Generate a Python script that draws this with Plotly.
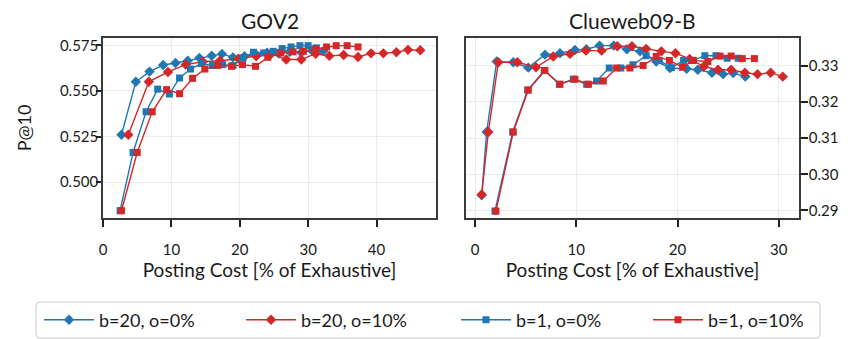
import plotly.graph_objects as go

# ---------------- data ----------------
# GOV2
gov2_b20_o0_x = [2.7, 4.8, 6.8, 8.8, 10.6, 12.4, 14.1, 15.9, 17.4, 19.0, 20.7, 22.4, 24.0, 25.7, 27.3, 29.0, 30.6, 32.2]
gov2_b20_o0_y = [0.526, 0.555, 0.5606, 0.5642, 0.5653, 0.5666, 0.5681, 0.5693, 0.5703, 0.5684, 0.5690, 0.5700, 0.5710, 0.5705, 0.5715, 0.5710, 0.5720, 0.5718]

gov2_b20_o10_x = [3.7, 6.7, 9.5, 12.1, 14.6, 17.1, 19.8, 22.4, 24.6, 26.8, 29.0, 31.1, 33.1, 35.2, 37.3, 39.2, 41.0, 42.9, 44.6, 46.4]
gov2_b20_o10_y = [0.526, 0.555, 0.5604, 0.5644, 0.5660, 0.5665, 0.5676, 0.5690, 0.5704, 0.5672, 0.5672, 0.5704, 0.5692, 0.5697, 0.5686, 0.5706, 0.5706, 0.5712, 0.5725, 0.5723]

gov2_b1_o0_x = [2.5, 4.4, 6.3, 8.0, 9.7, 11.2, 12.8, 14.4, 16.0, 17.5, 19.0, 20.5, 22.0, 23.5, 24.9, 26.2, 27.5, 28.8, 30.0, 31.2]
gov2_b1_o0_y = [0.4844, 0.5163, 0.5386, 0.5510, 0.5483, 0.5571, 0.5620, 0.5650, 0.5639, 0.5644, 0.5639, 0.5682, 0.5712, 0.5708, 0.5717, 0.5732, 0.5741, 0.5748, 0.5748, 0.5736]

gov2_b1_o10_x = [2.7, 5.0, 7.2, 9.3, 11.2, 13.1, 14.9, 16.8, 18.8, 20.4, 22.3, 24.1, 26.0, 27.8, 29.3, 31.1, 32.7, 34.1, 35.7, 37.3]
gov2_b1_o10_y = [0.4844, 0.5163, 0.5386, 0.5507, 0.5485, 0.5569, 0.5620, 0.5640, 0.5635, 0.5644, 0.5635, 0.5684, 0.5708, 0.5714, 0.5717, 0.5730, 0.5741, 0.5748, 0.5748, 0.5741]

# Clueweb09-B
cw_b20_o0_x = [0.66, 1.15, 2.14, 3.78, 5.26, 6.91, 8.39, 9.87, 11.0, 12.3, 13.7, 15.0, 16.3, 17.9, 19.25, 20.9, 22.0, 23.4, 24.5, 25.5, 26.7]
cw_b20_o0_y = [0.2942, 0.3117, 0.3312, 0.3310, 0.3295, 0.3331, 0.3335, 0.3344, 0.3346, 0.3356, 0.3356, 0.3346, 0.3340, 0.3312, 0.3294, 0.3292, 0.3289, 0.3281, 0.3277, 0.3280, 0.3270]

cw_b20_o10_x = [0.66, 1.32, 2.3, 4.18, 6.02, 7.73, 9.38, 10.96, 12.5, 14.05, 15.5, 16.9, 18.4, 19.8, 21.2, 22.6, 24.0, 25.3, 26.65, 27.9, 29.2, 30.4]
cw_b20_o10_y = [0.2944, 0.3117, 0.3310, 0.3310, 0.3296, 0.3326, 0.3333, 0.3342, 0.3342, 0.3354, 0.3354, 0.3347, 0.3340, 0.3335, 0.3319, 0.3298, 0.3289, 0.3289, 0.3281, 0.3277, 0.3281, 0.3270]

cw_b1_o0_x = [1.97, 3.72, 5.2, 6.84, 8.33, 9.71, 11.03, 12.0, 13.26, 14.4, 15.6, 16.9, 18.2, 19.4, 20.6, 21.55, 22.7, 23.8, 24.9, 26.0]
cw_b1_o0_y = [0.2898, 0.3117, 0.3233, 0.3287, 0.3249, 0.3263, 0.3249, 0.3258, 0.3294, 0.3294, 0.3303, 0.3328, 0.3315, 0.3295, 0.3315, 0.3315, 0.3328, 0.3328, 0.3321, 0.3321]

cw_b1_o10_x = [2.07, 3.78, 5.26, 6.91, 8.39, 9.87, 11.2, 12.67, 13.99, 15.3, 16.6, 17.9, 19.2, 20.5, 21.55, 23.0, 24.2, 25.3, 26.4, 27.6]
cw_b1_o10_y = [0.2898, 0.3117, 0.3233, 0.3287, 0.3249, 0.3263, 0.3249, 0.3258, 0.3294, 0.3294, 0.3301, 0.3326, 0.3315, 0.3296, 0.3315, 0.3312, 0.3327, 0.3327, 0.3320, 0.3320]

series_names = ["b=20, o=0%", "b=20, o=10%", "b=1, o=0%", "b=1, o=10%"]
panel_titles = ["GOV2", "Clueweb09-B"]
x_title = "Posting Cost [% of Exhaustive]"
y_title = "P@10"

BLUE = "#1f77b4"
RED = "#d62728"
FONT = "Lato"
TXT = "#1a1a1a"

styles = [
    (BLUE, "diamond", 8),
    (RED, "diamond", 8),
    (BLUE, "square", 7),
    (RED, "square", 7),
]

left = [(gov2_b20_o0_x, gov2_b20_o0_y), (gov2_b20_o10_x, gov2_b20_o10_y),
        (gov2_b1_o0_x, gov2_b1_o0_y), (gov2_b1_o10_x, gov2_b1_o10_y)]
right = [(cw_b20_o0_x, cw_b20_o0_y), (cw_b20_o10_x, cw_b20_o10_y),
         (cw_b1_o0_x, cw_b1_o0_y), (cw_b1_o10_x, cw_b1_o10_y)]

legend_keys = ["legend", "legend2", "legend3", "legend4"]

fig = go.Figure()
for i, (xs, ys) in enumerate(left):
    c, sym, sz = styles[i]
    fig.add_trace(go.Scatter(x=xs, y=ys, mode="lines+markers", name=series_names[i],
                             line=dict(color=c, width=1.4),
                             marker=dict(symbol=sym, size=sz, color=c),
                             xaxis="x", yaxis="y", legendgroup=str(i), legend=legend_keys[i]))
for i, (xs, ys) in enumerate(right):
    c, sym, sz = styles[i]
    fig.add_trace(go.Scatter(x=xs, y=ys, mode="lines+markers", name=series_names[i],
                             line=dict(color=c, width=1.4),
                             marker=dict(symbol=sym, size=sz, color=c),
                             xaxis="x2", yaxis="y2", legendgroup=str(i), showlegend=False))

W, H = 857, 339
OFF = 8  # page offset of the figure inside the browser window
def fx(p): return (p - OFF) / W
def fy(p): return 1 - (p - OFF) / H

axis_common = dict(showline=True, linecolor="#3a3a3a", linewidth=1.5, mirror=True,
                   showgrid=True, gridcolor="#ebebeb", gridwidth=1,
                   tickwidth=1.5, tickcolor="#222222",
                   zeroline=False, automargin=False,
                   tickfont=dict(family=FONT, size=15, color=TXT))

# legend entries (one legend per series so each sits where the reference has it)
legend_marker_px = [61, 263, 478, 670]
legend_y_px = 320
legends = {}
for key, mx in zip(legend_keys, legend_marker_px):
    legends[key] = dict(x=fx(mx - 22), y=fy(legend_y_px), xanchor="left", yanchor="middle",
                        bgcolor="rgba(0,0,0,0)", borderwidth=0,
                        font=dict(family=FONT, size=18, color=TXT), itemwidth=50)

# rounded legend frame
bx0, bx1, by0, by1, r = 36, 820, 302, 338, 4
rx, ry = r / W, r / H
X0, X1, Y0, Y1 = fx(bx0), fx(bx1), fy(by1), fy(by0)
frame_path = (f"M {X0+rx},{Y1} L {X1-rx},{Y1} Q {X1},{Y1} {X1},{Y1-ry} "
              f"L {X1},{Y0+ry} Q {X1},{Y0} {X1-rx},{Y0} L {X0+rx},{Y0} "
              f"Q {X0},{Y0} {X0},{Y0+ry} L {X0},{Y1-ry} Q {X0},{Y1} {X0+rx},{Y1} Z")

fig.update_layout(
    width=W, height=H,
    margin=dict(l=0, r=0, t=0, b=0),
    paper_bgcolor="white", plot_bgcolor="white",
    font=dict(family=FONT, color=TXT),
    xaxis=dict(domain=[fx(103), fx(436)], range=[0, 48.7], dtick=10, anchor="y",
               ticks="outside", ticklen=7, ticklabelstandoff=10,
               title=dict(text=x_title, font=dict(family=FONT, size=19, color=TXT), standoff=5), **axis_common),
    yaxis=dict(domain=[fy(218), fy(38)], range=[0.4804, 0.579], dtick=0.025, tickformat=".3f",
               anchor="x", ticks="outside", ticklen=5, ticklabelstandoff=-5,
               title=dict(text=y_title, font=dict(family=FONT, size=18, color=TXT), standoff=24),
               **axis_common),
    xaxis2=dict(domain=[fx(466), fx(799)], range=[-0.89, 32.0], dtick=10, anchor="y2",
                ticks="outside", ticklen=7, ticklabelstandoff=10,
                title=dict(text=x_title, font=dict(family=FONT, size=19, color=TXT), standoff=5), **axis_common),
    yaxis2=dict(domain=[fy(218), fy(38)], range=[0.2879, 0.3377], dtick=0.01, tickformat=".2f",
                anchor="x2", side="right", ticks="outside", ticklen=7, ticklabelstandoff=-2,
                **axis_common),
    annotations=[
        dict(text=panel_titles[0], x=(fx(103) + fx(436)) / 2, y=fy(20), xref="paper", yref="paper",
             xanchor="center", yanchor="middle",
             showarrow=False, font=dict(family=FONT, size=21, color=TXT)),
        dict(text=panel_titles[1], x=(fx(466) + fx(799)) / 2, y=fy(20), xref="paper", yref="paper",
             xanchor="center", yanchor="middle",
             showarrow=False, font=dict(family=FONT, size=21, color=TXT)),
    ],
    shapes=[dict(type="path", path=frame_path, xref="paper", yref="paper",
                 line=dict(color="#cccccc", width=1), fillcolor="rgba(0,0,0,0)", layer="below")],
    **legends,
)

fig.write_html("out.html")
